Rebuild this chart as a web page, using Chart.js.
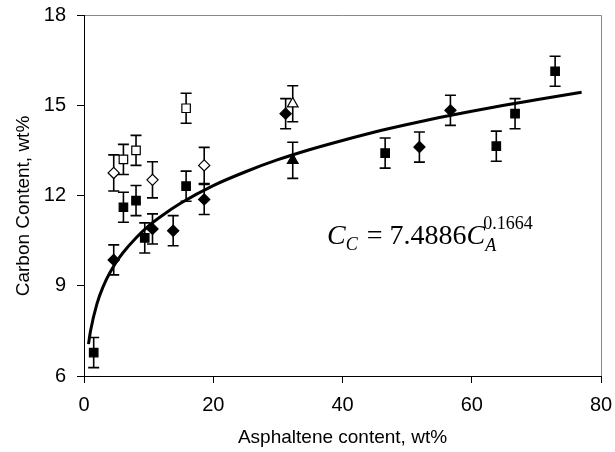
<!DOCTYPE html>
<html>
<head>
<meta charset="utf-8">
<script src="https://cdn.jsdelivr.net/npm/chart.js@4.4.1/dist/chart.umd.min.js"></script>
<style>
  html, body { margin: 0; padding: 0; background: #fff; }
  #marco { width: 615px; height: 452px; }
</style>
</head>
<body>
<div id="marco"><canvas id="grafico"></canvas></div>
<script>
// Datos (x = asfaltenos wt%, y = carbono wt%)
const cuadLlenoX = [1.5, 6.1, 8.05, 9.4, 15.8, 46.6, 63.8, 66.7, 72.9];
const cuadLlenoY = [6.78, 11.61, 11.83, 10.59, 12.31, 13.41, 13.64, 14.72, 16.13];
const cuadLlenoErr = [0.5, 0.5, 0.5, 0.5, 0.5, 0.5, 0.5, 0.5, 0.5];

const cuadVacioX = [6.1, 8.05, 15.8];
const cuadVacioY = [13.2, 13.5, 14.9];
const cuadVacioErr = [0.5, 0.5, 0.5];

const rombLlenoX = [4.6, 10.6, 13.8, 18.6, 31.2, 51.9, 56.7];
const rombLlenoY = [9.86, 10.89, 10.83, 11.87, 14.72, 13.61, 14.83];
const rombLlenoErr = [0.5, 0.5, 0.5, 0.5, 0.5, 0.5, 0.5];

const rombVacioX = [4.6, 10.6, 18.6];
const rombVacioY = [12.75, 12.52, 13.0];
const rombVacioErr = [0.6, 0.6, 0.6];

const triLlenoX = [32.3];
const triLlenoY = [13.17];
const triLlenoErr = [0.6];

const triVacioX = [32.3];
const triVacioY = [15.05];
const triVacioErr = [0.6];

const curvaX = [0.7, 1, 2, 3, 4, 5, 6, 8, 10, 12, 15, 20, 25, 30, 35, 40, 45, 50, 55, 60, 65, 70, 77];
const curvaY = [7.06, 7.49, 8.40, 8.99, 9.43, 9.79, 10.09, 10.58, 10.99, 11.32, 11.75, 12.33, 12.79, 13.19, 13.53, 13.83, 14.11, 14.36, 14.59, 14.80, 15.00, 15.18, 15.43];

const ticksX = [0, 20, 40, 60, 80];
const ticksY = [6, 9, 12, 15, 18];

const fuenteEjes = "'Liberation Sans', Arial, sans-serif";
const fuenteEc = "'Liberation Serif', 'Times New Roman', serif";

function puntos(xs, ys, errs) {
    return xs.map((x, i) => ({ x: x, y: ys[i], err: errs ? errs[i] : 0 }));
}

function serie(xs, ys, errs, estilo, lleno) {
    return {
        data: puntos(xs, ys, errs),
        pointStyle: estilo,
        pointRadius: estilo === 'rect' ? 6 : (estilo === 'triangle' ? 6.2 : 5.6),
        pointBackgroundColor: lleno ? '#000' : '#fff',
        pointBorderColor: '#000',
        pointBorderWidth: 1.2,
        showLine: false,
        barras: true
    };
}

// Barras de error dibujadas con las escalas del gráfico
const barrasError = {
    id: 'barrasError',
    beforeDatasetsDraw(chart) {
        const ctx = chart.ctx;
        const ey = chart.scales.y;
        ctx.save();
        ctx.strokeStyle = '#000';
        ctx.lineWidth = 1.6;
        chart.data.datasets.forEach((ds, i) => {
            if (!ds.barras) return;
            const meta = chart.getDatasetMeta(i);
            meta.data.forEach((p, j) => {
                const d = ds.data[j];
                const arriba = ey.getPixelForValue(d.y + d.err);
                const abajo = ey.getPixelForValue(d.y - d.err);
                ctx.beginPath();
                ctx.moveTo(p.x, arriba);
                ctx.lineTo(p.x, abajo);
                ctx.moveTo(p.x - 5.5, arriba);
                ctx.lineTo(p.x + 5.5, arriba);
                ctx.moveTo(p.x - 5.5, abajo);
                ctx.lineTo(p.x + 5.5, abajo);
                ctx.stroke();
            });
        });
        ctx.restore();
    },
    beforeDraw(chart) {
        // marco gris arriba y a la derecha
        const a = chart.chartArea;
        const ctx = chart.ctx;
        ctx.save();
        ctx.strokeStyle = '#888';
        ctx.lineWidth = 1;
        ctx.beginPath();
        ctx.moveTo(a.left, a.top + 0.5);
        ctx.lineTo(a.right + 0.5, a.top + 0.5);
        ctx.lineTo(a.right + 0.5, a.bottom);
        ctx.stroke();
        ctx.restore();
    },
    afterDraw(chart) {
        const ctx = chart.ctx;
        const a = chart.chartArea;
        ctx.save();
        ctx.fillStyle = '#000';
        // títulos de ejes
        ctx.font = '19px ' + fuenteEjes;
        ctx.textAlign = 'center';
        ctx.textBaseline = 'alphabetic';
        ctx.fillText('Asphaltene content, wt%', (a.left + a.right) / 2, 443);
        ctx.save();
        ctx.translate(29, 206);
        ctx.rotate(-Math.PI / 2);
        ctx.fillText('Carbon Content, wt%', 0, 0);
        ctx.restore();

        // ecuación de ajuste
        ctx.textAlign = 'left';
        let x = 327;
        const base = 244;
        ctx.font = 'italic 28px ' + fuenteEc;
        ctx.fillText('C', x, base);
        x += ctx.measureText('C').width;
        ctx.font = 'italic 18px ' + fuenteEc;
        ctx.fillText('C', x, base + 6);
        x += ctx.measureText('C').width + 9;
        ctx.font = '28px ' + fuenteEc;
        ctx.fillText('=', x, base);
        x += ctx.measureText('=').width + 7;
        ctx.fillText('7.4886', x, base);
        x += ctx.measureText('7.4886').width;
        ctx.font = 'italic 28px ' + fuenteEc;
        ctx.fillText('C', x, base);
        x += ctx.measureText('C').width;
        ctx.font = 'italic 18px ' + fuenteEc;
        ctx.fillText('A', x, base + 7);
        ctx.font = '18px ' + fuenteEc;
        ctx.fillText('0.1664', x - 2, base - 15);
        ctx.restore();
    }
};

const datasets = [
    {
        data: puntos(curvaX, curvaY),
        showLine: true,
        borderColor: '#000',
        borderWidth: 3,
        pointRadius: 0,
        cubicInterpolationMode: 'monotone',
        fill: false
    },
    serie(cuadLlenoX, cuadLlenoY, cuadLlenoErr, 'rect', true),
    serie(cuadVacioX, cuadVacioY, cuadVacioErr, 'rect', false),
    serie(rombLlenoX, rombLlenoY, rombLlenoErr, 'rectRot', true),
    serie(rombVacioX, rombVacioY, rombVacioErr, 'rectRot', false),
    serie(triLlenoX, triLlenoY, triLlenoErr, 'triangle', true),
    serie(triVacioX, triVacioY, triVacioErr, 'triangle', false)
];

new Chart(document.getElementById('grafico'), {
    type: 'scatter',
    data: { datasets: datasets },
    options: {
        responsive: true,
        maintainAspectRatio: false,
        animation: false,
        events: [],
        layout: { padding: { top: 15, right: 14, left: 0, bottom: 0 } },
        plugins: { legend: { display: false }, tooltip: { enabled: false } },
        scales: {
            x: {
                type: 'linear',
                min: 0, max: 80,
                afterFit(s) { s.height = 76; s.paddingLeft = 0; s.paddingRight = 0; },
                afterBuildTicks(s) { s.ticks = ticksX.map(v => ({ value: v })); },
                grid: { drawOnChartArea: false, drawTicks: true, tickLength: 7, color: '#000' },
                border: { display: true, color: '#000', width: 1 },
                ticks: { color: '#000', padding: 10, font: { family: fuenteEjes, size: 20 }, maxRotation: 0 }
            },
            y: {
                type: 'linear',
                min: 6, max: 18,
                afterFit(s) { s.width = 84; s.paddingTop = 0; s.paddingBottom = 0; },
                afterBuildTicks(s) { s.ticks = ticksY.map(v => ({ value: v })); },
                grid: { drawOnChartArea: false, drawTicks: true, tickLength: 7, color: '#000' },
                border: { display: true, color: '#000', width: 1 },
                ticks: { color: '#000', padding: 11, font: { family: fuenteEjes, size: 20 } }
            }
        }
    },
    plugins: [barrasError]
});
</script>
</body>
</html>
